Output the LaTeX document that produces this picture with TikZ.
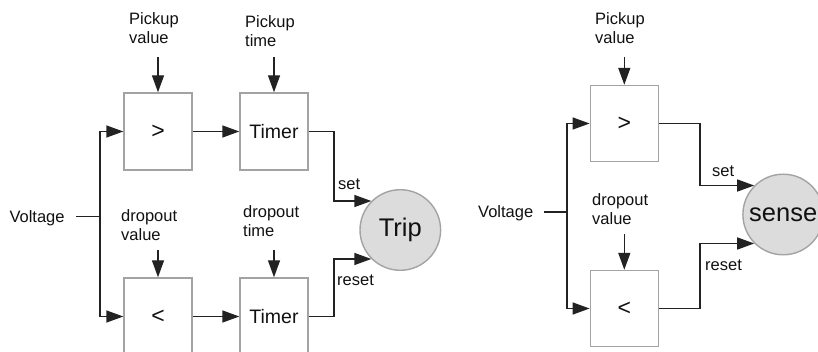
\documentclass[tikz,border=0pt]{standalone}
\usepackage{fontspec}
\setmainfont{Liberation Sans}
\usetikzlibrary{arrows.meta}
\definecolor{boxgray}{HTML}{A3A3A3}
\definecolor{wirecol}{HTML}{222222}
\definecolor{txtcol}{HTML}{111111}
\definecolor{circfill}{HTML}{DCDCDC}
\begin{document}
\begin{tikzpicture}[x=1pt,y=-1pt,
  blk/.style={draw=boxgray, line width=1.4pt, minimum width=68pt, minimum height=77pt, inner sep=0pt, text=txtcol, font=\fontsize{19.5}{22}\selectfont},
  cmp/.style={blk, font=\fontsize{23}{26}\selectfont},
  lbl/.style={anchor=base west, inner sep=0pt, align=left, text=txtcol, font=\fontsize{16.5}{19}\selectfont},
  wire/.style={draw=wirecol, line width=1.4pt},
  arr/.style={wire, -{Triangle[length=17pt,width=12pt]}},
  outc/.style={circle, draw=boxgray, line width=1.4pt, fill=circfill, minimum size=80.6pt, inner sep=0pt, text=txtcol, font=\fontsize{25.5}{28}\selectfont}
]
\useasboundingbox (0,0) rectangle (818,352);
\clip (0,0) rectangle (818,352);

% ---------- left diagram ----------
\node[cmp] (gt1) at (158,131.5) {>};
\node[blk] (tm1) at (274,131.5) {Timer};
\node[cmp] (lt1) at (158,316.5) {<};
\node[blk] (tm2) at (274,316.5) {Timer};
\node[outc] (trip) at (400.3,230) {Trip};

\node[lbl] (v1) at (9.3,222.3) {Voltage};
\node[lbl] (pv1) at (129,43.3) {Pickup\\value};
\node[lbl] (pt1) at (245,46.7) {Pickup\\time};
\node[lbl] (dv1) at (121,240.7) {dropout\\value};
\node[lbl] (dt1) at (243,236.7) {dropout\\time};
\node[lbl] (set1) at (338,190) {set};
\node[lbl] (rst1) at (337,285) {reset};

\coordinate (b1) at (100,216.5);
\coordinate (pvin1) at (158,57);
\coordinate (ptin1) at (274,57);
\coordinate (dvin1) at (158,250);
\coordinate (dtin1) at (274,250);
\coordinate (j1) at (334,131.5);
\coordinate (j2) at (334,316.5);

\draw[wire] (b1 -| v1.east) ++(11,0) -- (b1);
\draw[arr] (b1) |- (gt1.west);
\draw[arr] (b1) |- (lt1.west);
\draw[arr] (pvin1) -- (gt1.north);
\draw[arr] (ptin1) -- (tm1.north);
\draw[arr] (dvin1) -- (lt1.north);
\draw[arr] (dtin1) -- (tm2.north);
\draw[arr] (gt1.east) -- (tm1.west);
\draw[arr] (lt1.east) -- (tm2.west);
\draw[arr] (tm1.east) -- (j1) |- (trip.135);
\draw[arr] (tm2.east) -- (j2) |- (trip.225);

% ---------- right diagram ----------
\node[cmp, minimum height=76pt] (gt2) at (624.3,123.5) {>};
\node[cmp, minimum height=76pt] (lt2) at (624.3,308.5) {<};
\node[outc] (sense) at (783.2,214.5) {sense};

\node[lbl] (v2) at (478,217.3) {Voltage};
\node[lbl] (pv2) at (595,44) {Pickup\\value};
\node[lbl] (dv2) at (592,224.3) {dropout\\value};
\node[lbl] (set2) at (712,176.7) {set};
\node[lbl] (rst2) at (705,270) {reset};

\coordinate (b2) at (567,212);
\coordinate (pvin2) at (624.3,57);
\coordinate (dvin2) at (624.3,234);
\coordinate (j3) at (700,123.5);
\coordinate (j4) at (700,308.5);

\draw[wire] (b2 -| v2.east) ++(11,0) -- (b2);
\draw[arr] (b2) |- (gt2.west);
\draw[arr] (b2) |- (lt2.west);
\draw[arr] (pvin2) -- (gt2.north);
\draw[arr] (dvin2) -- (lt2.north);
\draw[arr] (gt2.east) -- (j3) |- (sense.135);
\draw[arr] (lt2.east) -- (j4) |- (sense.225);
\end{tikzpicture}
\end{document}
